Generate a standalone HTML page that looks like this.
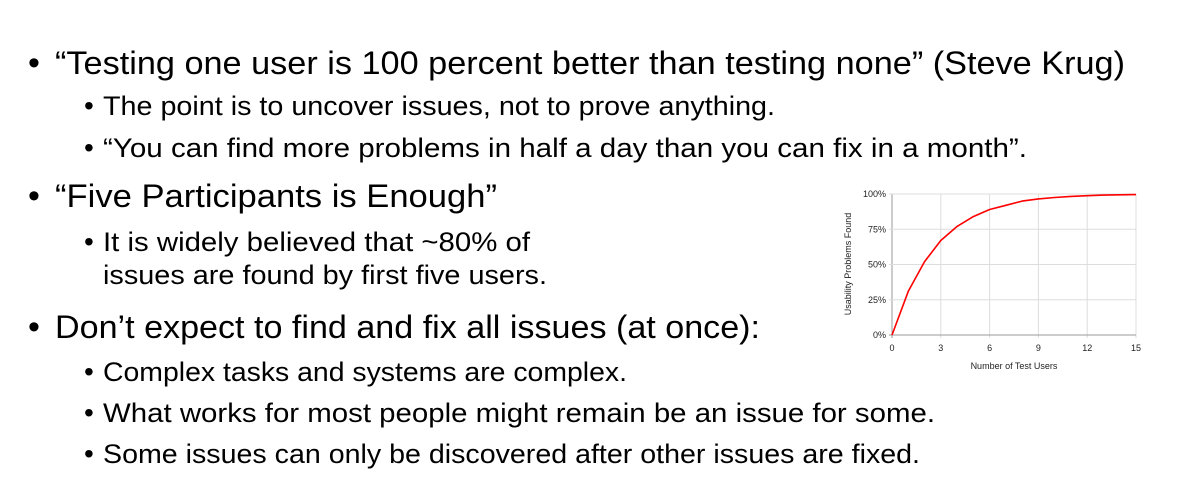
<!DOCTYPE html>
<html><head><meta charset="utf-8"><style>
html,body{margin:0;padding:0;background:#fff;width:1180px;height:502px;overflow:hidden}
svg{display:block}
.b{font-family:"Liberation Sans",sans-serif;fill:#000}
.t{font-family:"Liberation Sans",sans-serif;font-size:9px;fill:#222}
</style></head><body>
<svg id="s" width="1180" height="502">
<g>
<text class="b" x="28" y="74" font-size="34">•</text>
<text class="b" x="55" y="74" font-size="32.5" textLength="1070" lengthAdjust="spacingAndGlyphs">“Testing one user is 100 percent better than testing none” (Steve Krug)</text>
<text class="b" x="84" y="115" font-size="28">•</text>
<text class="b" x="103" y="115" font-size="27" textLength="672" lengthAdjust="spacingAndGlyphs">The point is to uncover issues, not to prove anything.</text>
<text class="b" x="84" y="157" font-size="28">•</text>
<text class="b" x="103" y="157" font-size="27" textLength="924" lengthAdjust="spacingAndGlyphs">“You can find more problems in half a day than you can fix in a month”.</text>
<text class="b" x="28" y="207" font-size="34">•</text>
<text class="b" x="55" y="207" font-size="32.5" textLength="442" lengthAdjust="spacingAndGlyphs">“Five Participants is Enough”</text>
<text class="b" x="84" y="251" font-size="28">•</text>
<text class="b" x="103" y="251" font-size="27" textLength="427" lengthAdjust="spacingAndGlyphs">It is widely believed that ~80% of</text>
<text class="b" x="103" y="284" font-size="27" textLength="444" lengthAdjust="spacingAndGlyphs">issues are found by first five users.</text>
<text class="b" x="28" y="338" font-size="34">•</text>
<text class="b" x="55" y="338" font-size="32.5" textLength="705" lengthAdjust="spacingAndGlyphs">Don’t expect to find and fix all issues (at once):</text>
<text class="b" x="84" y="381" font-size="28">•</text>
<text class="b" x="103" y="381" font-size="27" textLength="524" lengthAdjust="spacingAndGlyphs">Complex tasks and systems are complex.</text>
<text class="b" x="84" y="422" font-size="28">•</text>
<text class="b" x="103" y="422" font-size="27" textLength="832" lengthAdjust="spacingAndGlyphs">What works for most people might remain be an issue for some.</text>
<text class="b" x="84" y="463" font-size="28">•</text>
<text class="b" x="103" y="463" font-size="27" textLength="817" lengthAdjust="spacingAndGlyphs">Some issues can only be discovered after other issues are fixed.</text>
</g>
<g id="chart"></g>
</svg>
<script>
const users=[0,1,2,3,4,5,6,7,8,9,10,11,12,13,14,15];
const found=[0,31,52,67,77,84,89,92,95,96.5,97.5,98.3,98.8,99.2,99.4,99.6];
const xTicks=[0,3,6,9,12,15];
const yTicks=[0,25,50,75,100];
const NS="http://www.w3.org/2000/svg";
const g=document.getElementById('chart');
const X0=892,X1=1136,Y0=335,Y1=194;
const xs=v=>X0+(v-0)/(15-0)*(X1-X0);
const ys=v=>Y0-v/100*(Y0-Y1);
function mk(tag,attrs){const e=document.createElementNS(NS,tag);for(const k in attrs)e.setAttribute(k,attrs[k]);g.appendChild(e);return e;}
xTicks.forEach(v=>{
  const l=mk('line',{x1:xs(v),x2:xs(v),y1:Y1,y2:Y0+3,stroke:v===0?'#999':'#ddd','stroke-width':1});
  
  
  const t=mk('text',{x:xs(v),y:Y0+16,'text-anchor':'middle',class:'t'});
  t.textContent=v;
  
  
});
yTicks.forEach(v=>{
  const l=mk('line',{x1:X0-3,x2:X1,y1:ys(v),y2:ys(v),stroke:v===0?'#999':'#ddd','stroke-width':1});
  
  
  const t=mk('text',{x:X0-6,y:ys(v)+3,'text-anchor':'end',class:'t'});
  t.textContent=v+'%';
  
  
});
let d='';
users.forEach((u,i)=>{d+=(i?'L':'M')+xs(u).toFixed(1)+','+ys(found[i]).toFixed(1);});
const p=mk('path',{d:d,fill:'none',stroke:'#f00','stroke-width':1.6,'stroke-linejoin':'round'});


const xt=mk('text',{x:1014,y:369,'text-anchor':'middle',class:'t','font-size':'10.5'});
xt.textContent='Number of Test Users';


const yt=mk('text',{x:0,y:0,'text-anchor':'middle',class:'t','font-size':'10.5',transform:'translate(851,264) rotate(-90)'});
yt.textContent='Usability Problems Found';


</script>
</body></html>
